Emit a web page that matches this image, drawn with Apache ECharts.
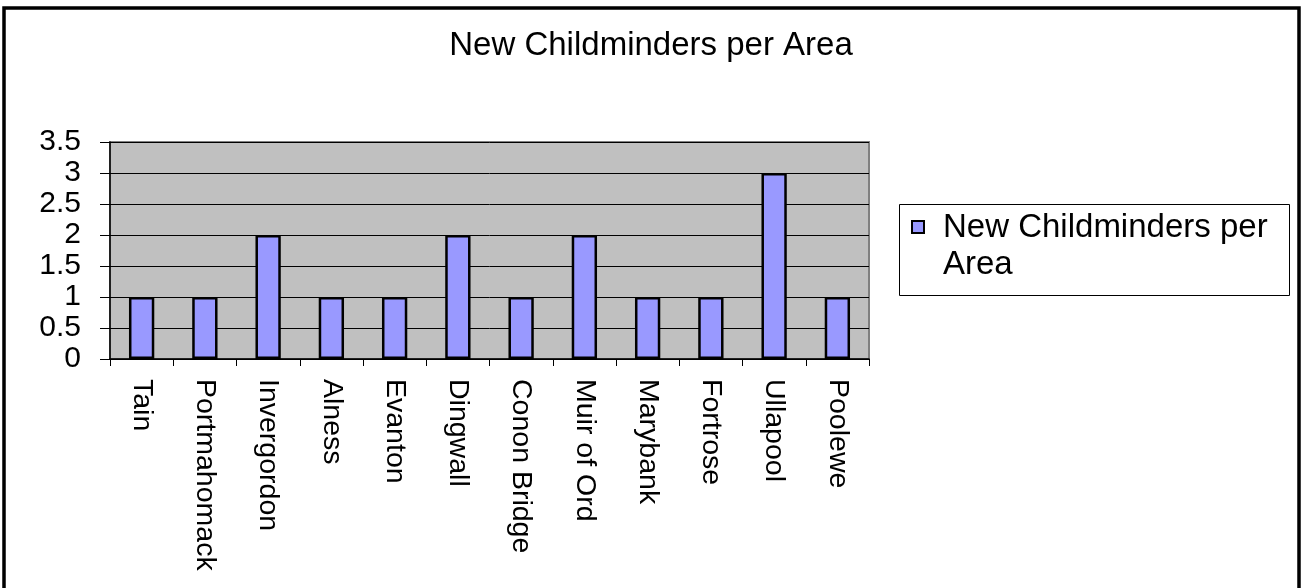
<!DOCTYPE html>
<html>
<head>
<meta charset="utf-8">
<title>New Childminders per Area</title>
<script src="https://cdn.jsdelivr.net/npm/echarts@6/dist/echarts.min.js"></script>
<style>
  html, body { margin: 0; padding: 0; background: #ffffff; }
  #chart { width: 1302px; height: 588px; }
</style>
</head>
<body>
<div id="chart"></div>
<script>
// Areas and the number of new childminders in each
const areas = ['Tain', 'Portmahomack', 'Invergordon', 'Alness', 'Evanton', 'Dingwall',
  'Conon Bridge', 'Muir of Ord', 'Marybank', 'Fortrose', 'Ullapool', 'Poolewe'];
const newChildminders = [1, 1, 2, 1, 1, 2, 1, 2, 1, 1, 3, 1];
const seriesName = 'New Childminders per Area';
const chartTitle = 'New Childminders per Area';
const legendLines = ['New Childminders per', 'Area'];

const FONT = '"Liberation Sans", Arial, Helvetica, sans-serif';
const BAR_FILL = '#9999FF';

const chart = echarts.init(document.getElementById('chart'), null, { renderer: 'canvas' });

chart.setOption({
  backgroundColor: '#ffffff',
  animation: false,
  title: {
    text: chartTitle,
    left: 'center',
    top: 29,
    padding: 0,
    textStyle: { fontFamily: FONT, fontSize: 33, fontWeight: 'normal', color: '#000000' }
  },
  grid: {
    left: 110,
    top: 142,
    right: 433,
    bottom: 229,
    show: true,
    backgroundColor: '#C0C0C0',
    borderColor: '#808080',
    borderWidth: 2
  },
  xAxis: {
    type: 'category',
    data: areas,
    boundaryGap: true,
    axisLine: { show: true, lineStyle: { color: '#000000', width: 1.5 } },
    axisTick: { show: true, interval: 0, length: 7, lineStyle: { color: '#000000' } },
    axisLabel: {
      interval: 0,
      rotate: -90,
      margin: 20,
      padding: [0, 0, 8, 0],
      fontFamily: FONT,
      fontSize: 28.5,
      color: '#000000'
    },
    splitLine: { show: false }
  },
  yAxis: {
    type: 'value',
    min: 0,
    max: 3.5,
    interval: 0.5,
    axisLine: { show: true, lineStyle: { color: '#000000', width: 1.5 } },
    axisTick: { show: true, length: 10, lineStyle: { color: '#000000' } },
    axisLabel: {
      margin: 29,
      fontFamily: FONT,
      fontSize: 30,
      color: '#000000'
    },
    splitLine: { show: true, lineStyle: { color: '#000000', width: 1 } }
  },
  series: [{
    name: seriesName,
    type: 'bar',
    data: newChildminders,
    barWidth: '40%',
    itemStyle: { color: BAR_FILL, borderColor: '#000000', borderWidth: 2.5 }
  }],
  graphic: [
    // outer chart frame
    {
      type: 'rect',
      shape: { x: 4, y: 8, width: 1295, height: 600 },
      style: { fill: 'none', stroke: '#000000', lineWidth: 3.5 },
      silent: true
    },
    // legend box
    {
      type: 'rect',
      shape: { x: 899.5, y: 204.5, width: 390, height: 91 },
      style: { fill: '#ffffff', stroke: '#000000', lineWidth: 1 },
      silent: true
    },
    {
      type: 'rect',
      shape: { x: 912, y: 221, width: 12, height: 12 },
      style: { fill: BAR_FILL, stroke: '#000000', lineWidth: 2 },
      silent: true
    },
    {
      type: 'text',
      x: 943,
      y: 209,
      style: {
        text: legendLines.join('\n'),
        fontFamily: FONT,
        fontSize: 33,
        lineHeight: 37,
        fill: '#000000',
        align: 'left',
        verticalAlign: 'top'
      },
      silent: true
    }
  ]
});
</script>
</body>
</html>
